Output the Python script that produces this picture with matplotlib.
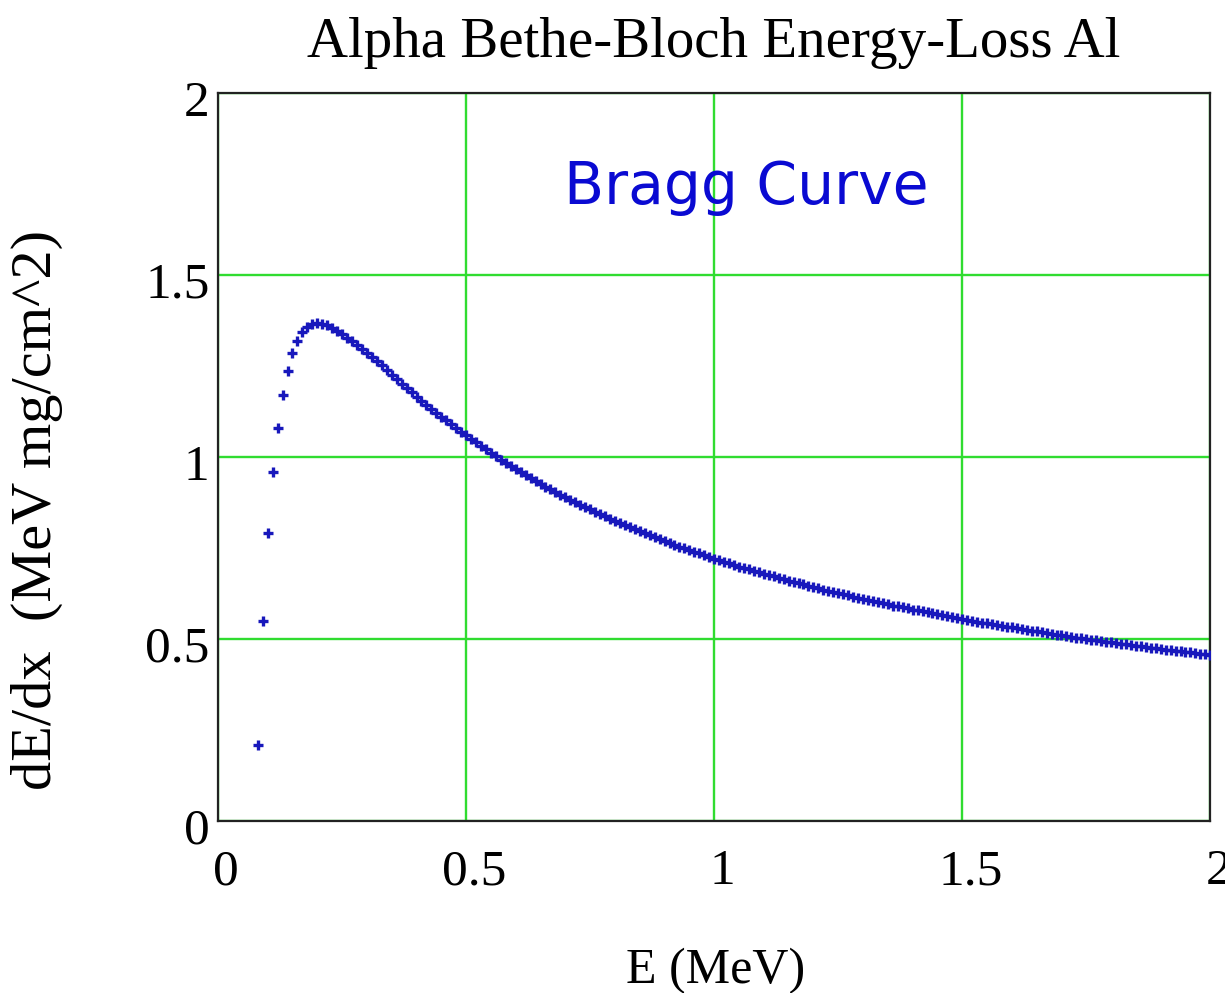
import matplotlib.pyplot as plt
from matplotlib.transforms import ScaledTranslation

# energia da particula alfa (MeV)
energia = [
    0.08, 0.09, 0.10, 0.11, 0.12, 0.13, 0.14, 0.15, 0.16, 0.17,
    0.18, 0.19, 0.20, 0.21, 0.22, 0.23, 0.24, 0.25, 0.26, 0.27,
    0.28, 0.29, 0.30, 0.31, 0.32, 0.33, 0.34, 0.35, 0.36, 0.37,
    0.38, 0.39, 0.40, 0.41, 0.42, 0.43, 0.44, 0.45, 0.46, 0.47,
    0.48, 0.49, 0.50, 0.51, 0.52, 0.53, 0.54, 0.55, 0.56, 0.57,
    0.58, 0.59, 0.60, 0.61, 0.62, 0.63, 0.64, 0.65, 0.66, 0.67,
    0.68, 0.69, 0.70, 0.71, 0.72, 0.73, 0.74, 0.75, 0.76, 0.77,
    0.78, 0.79, 0.80, 0.81, 0.82, 0.83, 0.84, 0.85, 0.86, 0.87,
    0.88, 0.89, 0.90, 0.91, 0.92, 0.93, 0.94, 0.95, 0.96, 0.97,
    0.98, 0.99, 1.00, 1.01, 1.02, 1.03, 1.04, 1.05, 1.06, 1.07,
    1.08, 1.09, 1.10, 1.11, 1.12, 1.13, 1.14, 1.15, 1.16, 1.17,
    1.18, 1.19, 1.20, 1.21, 1.22, 1.23, 1.24, 1.25, 1.26, 1.27,
    1.28, 1.29, 1.30, 1.31, 1.32, 1.33, 1.34, 1.35, 1.36, 1.37,
    1.38, 1.39, 1.40, 1.41, 1.42, 1.43, 1.44, 1.45, 1.46, 1.47,
    1.48, 1.49, 1.50, 1.51, 1.52, 1.53, 1.54, 1.55, 1.56, 1.57,
    1.58, 1.59, 1.60, 1.61, 1.62, 1.63, 1.64, 1.65, 1.66, 1.67,
    1.68, 1.69, 1.70, 1.71, 1.72, 1.73, 1.74, 1.75, 1.76, 1.77,
    1.78, 1.79, 1.80, 1.81, 1.82, 1.83, 1.84, 1.85, 1.86, 1.87,
    1.88, 1.89, 1.90, 1.91, 1.92, 1.93, 1.94, 1.95, 1.96, 1.97,
    1.98, 1.99, 2.00,
]

# perda de energia dE/dx (MeV mg/cm^2)
perda = [
    0.210, 0.550, 0.790, 0.960, 1.080, 1.170, 1.235, 1.285, 1.318, 1.343,
    1.358, 1.366, 1.368, 1.366, 1.362, 1.355, 1.347, 1.338, 1.328, 1.318,
    1.307, 1.296, 1.286, 1.276, 1.265, 1.252, 1.239, 1.226, 1.214, 1.202,
    1.190, 1.178, 1.166, 1.155, 1.143, 1.133, 1.122, 1.111, 1.101, 1.090,
    1.080, 1.070, 1.060, 1.050, 1.040, 1.030, 1.021, 1.011, 1.002, 0.993,
    0.984, 0.976, 0.967, 0.959, 0.950, 0.942, 0.934, 0.927, 0.919, 0.911,
    0.904, 0.897, 0.890, 0.883, 0.876, 0.869, 0.862, 0.856, 0.849, 0.843,
    0.837, 0.830, 0.824, 0.818, 0.813, 0.807, 0.801, 0.796, 0.790, 0.785,
    0.779, 0.774, 0.769, 0.764, 0.759, 0.754, 0.749, 0.744, 0.739, 0.735,
    0.730, 0.725, 0.721, 0.717, 0.712, 0.708, 0.704, 0.699, 0.695, 0.691,
    0.687, 0.683, 0.679, 0.675, 0.672, 0.668, 0.664, 0.660, 0.657, 0.653,
    0.650, 0.646, 0.643, 0.639, 0.636, 0.633, 0.629, 0.626, 0.623, 0.620,
    0.616, 0.613, 0.610, 0.607, 0.604, 0.601, 0.598, 0.595, 0.592, 0.590,
    0.587, 0.584, 0.581, 0.579, 0.576, 0.573, 0.571, 0.568, 0.565, 0.563,
    0.560, 0.558, 0.555, 0.553, 0.550, 0.548, 0.545, 0.543, 0.541, 0.538,
    0.536, 0.534, 0.532, 0.529, 0.527, 0.525, 0.523, 0.521, 0.519, 0.516,
    0.514, 0.512, 0.510, 0.508, 0.506, 0.504, 0.502, 0.500, 0.498, 0.496,
    0.494, 0.492, 0.491, 0.489, 0.487, 0.485, 0.483, 0.481, 0.480, 0.478,
    0.476, 0.474, 0.473, 0.471, 0.469, 0.468, 0.466, 0.464, 0.463, 0.461,
    0.459, 0.458, 0.456,
]

ticks = [0, 0.5, 1, 1.5, 2]
tick_labels = ['0', '0.5', '1', '1.5', '2']

fig = plt.figure(figsize=(12.25, 9.93), dpi=100)
ax = fig.add_axes([0.178, 0.1732, 0.81, 0.7331])

ax.plot(energia, perda, linestyle='none', marker='+', markersize=7,
        markeredgewidth=2.4, color='#1818bc', zorder=3)

ax.set_xlim(0, 2)
ax.set_ylim(0, 2)
ax.set_xticks(ticks)
ax.set_xticklabels(tick_labels)
ax.set_yticks(ticks)
ax.set_yticklabels(tick_labels)

ax.grid(True, color='#30dc30', linewidth=1.7, zorder=1)
ax.set_axisbelow(True)

for lado in ax.spines.values():
    lado.set_color('#222222')
    lado.set_linewidth(1.6)

serif = 'Liberation Serif'
ax.tick_params(axis='both', length=0, labelsize=37)
ax.tick_params(axis='x', pad=20)
ax.tick_params(axis='y', pad=6)
for lbl in ax.get_xticklabels() + ax.get_yticklabels():
    lbl.set_fontfamily(serif)

# rotulos do Mathcad ficam um pouco deslocados
desl_x = ScaledTranslation(8 / 100, 0, fig.dpi_scale_trans)
for lbl in ax.get_xticklabels():
    lbl.set_transform(lbl.get_transform() + desl_x)
desl_y = ScaledTranslation(0, -5 / 100, fig.dpi_scale_trans)
for lbl in ax.get_yticklabels():
    lbl.set_transform(lbl.get_transform() + desl_y)

ax.set_title('Alpha Bethe-Bloch Energy-Loss Al', fontsize=41,
             fontfamily=serif, pad=26)
ax.set_xlabel('E (MeV)', fontsize=36, fontfamily=serif)
ax.xaxis.set_label_coords(0.501, -0.174)
ax.set_ylabel('dE/dx  (MeV mg/cm^2)', fontsize=42, fontfamily=serif)
ax.yaxis.set_label_coords(-0.156, 0.428)

ax.text(1.065, 1.74, 'Bragg Curve', fontsize=42, color='#0a0ad2',
        fontfamily='DejaVu Sans', ha='center', va='center')

fig.savefig('out.png', dpi=100)
